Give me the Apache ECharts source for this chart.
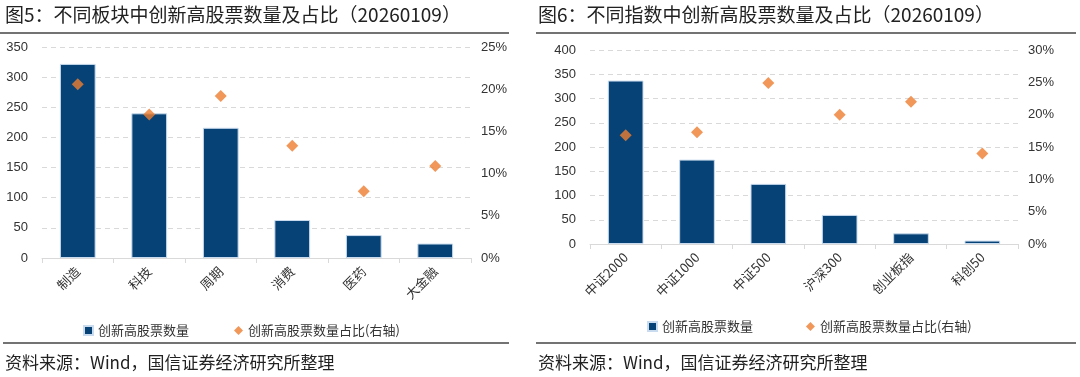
<!DOCTYPE html>
<html>
<head>
<meta charset="utf-8">
<script src="https://cdn.jsdelivr.net/npm/echarts@6/dist/echarts.min.js"></script>
<style>
  html, body { margin: 0; padding: 0; background: #fff; }
  #main { width: 1080px; height: 377px; }
</style>
</head>
<body>
<div id="main"></div>
<script>
// 图5 不同板块
const sectorCats = ['制造', '科技', '周期', '消费', '医药', '大金融'];
const sectorCount = [322, 240, 216, 63, 38, 24];
const sectorRatio = [20.6, 17.0, 19.2, 13.3, 7.9, 10.9];

// 图6 不同指数
const indexCats = ['中证2000', '中证1000', '中证500', '沪深300', '创业板指', '科创50'];
const indexCount = [337, 174, 124, 60, 22, 7];
const indexRatio = [16.8, 17.3, 24.9, 20.0, 22.0, 14.0];

const barName = '创新高股票数量';
const dotName = '创新高股票数量占比(右轴)';

const cjk = '"Noto Sans CJK SC", "Noto Sans", sans-serif';
const num = '"Liberation Sans", Arial, sans-serif';
const barColor = '#064275';
const dotColor = '#ed7d31';

const chart = echarts.init(document.getElementById('main'));

function xAxisFor(idx, cats) {
  return {
    type: 'category',
    gridIndex: idx,
    data: cats,
    axisLine: { lineStyle: { color: '#d9d9d9' } },
    axisTick: { show: true, length: 5, lineStyle: { color: '#d9d9d9' } },
    axisLabel: { rotate: 45, fontFamily: cjk, fontSize: 13, color: '#333', margin: 11 }
  };
}

function leftY(idx, max, interval) {
  return {
    type: 'value', gridIndex: idx, min: 0, max: max, interval: interval,
    axisLine: { show: false }, axisTick: { show: false },
    axisLabel: { fontFamily: num, fontSize: 13, color: '#333', margin: 14 },
    splitLine: { lineStyle: { color: '#d9d9d9', type: [5, 4] } }
  };
}

function rightY(idx, max) {
  return {
    type: 'value', gridIndex: idx, position: 'right', min: 0, max: max, interval: 5,
    axisLine: { show: false }, axisTick: { show: false },
    axisLabel: { formatter: '{value}%', fontFamily: num, fontSize: 13, color: '#333', margin: 10 },
    splitLine: { show: false }
  };
}

function line(x1, x2, y) {
  return { type: 'line', shape: { x1: x1, y1: y, x2: x2, y2: y }, style: { stroke: '#444', lineWidth: 1.5 } };
}

function text(x, y, str, size) {
  return { type: 'text', x: x, y: y, style: { text: str, font: size + 'px ' + cjk, fill: '#222', textVerticalAlign: 'middle' } };
}

const option = {
  animation: false,
  grid: [
    { left: 42, top: 47, width: 429, height: 211 },
    { left: 590, top: 50, width: 428, height: 194 }
  ],
  xAxis: [xAxisFor(0, sectorCats), xAxisFor(1, indexCats)],
  yAxis: [leftY(0, 350, 50), rightY(0, 25), leftY(1, 400, 50), rightY(1, 30)],
  legend: [
    {
      left: 78, top: 319, itemWidth: 9, itemHeight: 9, itemGap: 45,
      textStyle: { fontFamily: cjk, fontSize: 13, color: '#333' },
      data: [{ name: barName, icon: 'rect' }, { name: dotName, icon: 'diamond' }]
    },
    {
      left: 642, top: 315, itemWidth: 9, itemHeight: 9, itemGap: 50,
      textStyle: { fontFamily: cjk, fontSize: 13, color: '#333' },
      data: [{ name: barName + ' ', icon: 'rect' }, { name: dotName + ' ', icon: 'diamond' }]
    }
  ],
  series: [
    {
      name: barName, type: 'bar', xAxisIndex: 0, yAxisIndex: 0, data: sectorCount, barWidth: '50%',
      itemStyle: { color: barColor, borderColor: '#c9dbee', borderWidth: 1 }
    },
    {
      name: dotName, type: 'scatter', xAxisIndex: 0, yAxisIndex: 1, data: sectorRatio,
      symbol: 'diamond', symbolSize: 12, itemStyle: { color: dotColor }
    },
    {
      name: barName + ' ', type: 'bar', xAxisIndex: 1, yAxisIndex: 2, data: indexCount, barWidth: '50%',
      itemStyle: { color: barColor, borderColor: '#c9dbee', borderWidth: 1 }
    },
    {
      name: dotName + ' ', type: 'scatter', xAxisIndex: 1, yAxisIndex: 3, data: indexRatio,
      symbol: 'diamond', symbolSize: 12, itemStyle: { color: dotColor }
    }
  ],
  graphic: [
    text(5, 15, '图5：不同板块中创新高股票数量及占比（20260109）', 19),
    text(538, 15, '图6：不同指数中创新高股票数量及占比（20260109）', 19),
    line(0, 509, 33),
    line(536, 1076, 33),
    line(3, 509, 343),
    line(536, 1076, 343),
    text(5, 363, '资料来源：Wind，国信证券经济研究所整理', 17),
    text(538, 363, '资料来源：Wind，国信证券经济研究所整理', 17)
  ]
};

chart.setOption(option);
</script>
</body>
</html>
